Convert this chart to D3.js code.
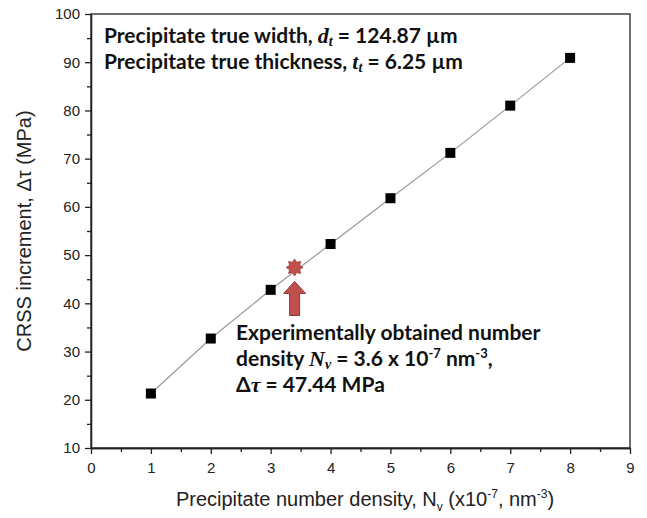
<!DOCTYPE html>
<html><head><meta charset="utf-8">
<script src="https://cdn.jsdelivr.net/npm/d3@7"></script>
<style>body{margin:0;background:#fff}svg{display:block}</style>
</head><body>
<svg id="c" width="647" height="518"></svg>
<script>
const densities = [1, 2, 3, 4, 5, 6, 7, 8];
const crss = [21.3, 32.7, 42.8, 52.3, 61.8, 71.2, 81.0, 90.9];
const expPoint = {x: 3.4, y: 47.44};
const xTicks = [0,1,2,3,4,5,6,7,8,9];
const yTicks = [10,20,30,40,50,60,70,80,90,100];

const svg = d3.select("#c");
const L = 91, R = 630, T = 14, B = 448;
const x = d3.scaleLinear().domain([0, 9]).range([L, R]);
const y = d3.scaleLinear().domain([10, 100]).range([B, T]);

const g = svg.append("g");
g.append("rect").attr("x", L).attr("y", T).attr("width", R - L).attr("height", B - T)
  .attr("fill", "none").attr("stroke", "#222").attr("stroke-width", 1.3);

const tickFont = "Liberation Sans, Arial, sans-serif";
const xa = g.append("g").attr("transform", `translate(0,${B})`)
  .call(d3.axisBottom(x).tickValues(xTicks).tickSize(6).tickSizeOuter(0).tickPadding(8).tickFormat(d3.format("d")));
const xm = g.append("g").attr("transform", `translate(0,${B})`)
  .call(d3.axisBottom(x).tickValues(d3.range(0.5, 9, 1)).tickSize(4).tickSizeOuter(0).tickFormat(""));
const ya = g.append("g").attr("transform", `translate(${L},0)`)
  .call(d3.axisLeft(y).tickValues(yTicks).tickSize(6).tickSizeOuter(0).tickPadding(5).tickFormat(d3.format("d")));
const ym = g.append("g").attr("transform", `translate(${L},0)`)
  .call(d3.axisLeft(y).tickValues(d3.range(15, 100, 10)).tickSize(4).tickSizeOuter(0).tickFormat(""));
[xa, xm, ya, ym].forEach(a => {
  a.select(".domain").attr("stroke", "#222").attr("stroke-width", 1.3);
  a.selectAll(".tick line").attr("stroke", "#222").attr("stroke-width", 1.3);
  a.selectAll("text").attr("font-family", tickFont).attr("font-size", 15).attr("fill", "#222");
});

const pts = densities.map((d, i) => [d, crss[i]]);
g.append("path").datum(pts)
  .attr("d", d3.line().x(d => x(d[0])).y(d => y(d[1])))
  .attr("fill", "none").attr("stroke", "#999").attr("stroke-width", 1.2);
g.selectAll("rect.pt").data(pts).enter().append("rect").attr("class", "pt")
  .attr("x", d => x(d[0]) - 5).attr("y", d => y(d[1]) - 5)
  .attr("width", 10).attr("height", 10).attr("fill", "#000");

const sx = x(expPoint.x), sy = y(expPoint.y);
const starPts = [];
for (let i = 0; i < 16; i++) {
  const r = i % 2 === 0 ? 8.5 : 5.5;
  const a = Math.PI * i / 8 - Math.PI / 2;
  starPts.push([sx + r * Math.cos(a), sy + r * Math.sin(a)]);
}
g.append("polygon").attr("points", starPts.map(p => p.join(",")).join(" "))
  .attr("fill", "#c0504d").attr("stroke", "#a03c3a").attr("stroke-width", 0.8);
const ax = sx, aTop = sy + 14, aBot = sy + 48;
const arrow = [[ax, aTop], [ax + 11, aTop + 12], [ax + 5, aTop + 12], [ax + 5, aBot],
  [ax - 5, aBot], [ax - 5, aTop + 12], [ax - 11, aTop + 12]];
g.append("polygon").attr("points", arrow.map(p => p.join(",")).join(" "))
  .attr("fill", "#c0504d").attr("stroke", "#8c3836").attr("stroke-width", 1);

const annFont = "Lato, 'Open Sans', sans-serif";
const mathFont = "'Liberation Serif', 'DejaVu Serif', serif";
function ann(xp, yp, parts) {
  const t = svg.append("text").attr("x", xp).attr("y", yp)
    .attr("font-family", annFont).attr("font-weight", "bold").attr("font-size", 21).attr("fill", "#111");
  parts.forEach(p => {
    const s = t.append("tspan").text(p.t);
    if (p.math) s.attr("font-family", mathFont).attr("font-style", "italic").attr("font-size", p.small ? 14 : 22);
    if (p.small && !p.math) s.attr("font-size", 13);
    if (p.dy) s.attr("dy", p.dy);
  });
}
ann(104, 43, [{t: "Precipitate true width, "}, {t: "d", math: true}, {t: "t", math: true, small: true, dy: 3}, {t: " = 124.87 µm", dy: -3}]);
ann(104, 69, [{t: "Precipitate true thickness, "}, {t: "t", math: true}, {t: "t", math: true, small: true, dy: 3}, {t: " = 6.25 µm", dy: -3}]);
ann(236, 340, [{t: "Experimentally obtained number"}]);
ann(236, 366, [{t: "density "}, {t: "N", math: true}, {t: "v", math: true, small: true, dy: 3}, {t: " = 3.6 x 10", dy: -3}, {t: "-7", small: true, dy: -8}, {t: " nm", dy: 8}, {t: "-3", small: true, dy: -8}, {t: ",", dy: 8}]);
ann(236, 392, [{t: "Δ"}, {t: "τ", math: true}, {t: " = 47.44 MPa"}]);

svg.append("text").attr("x", 365).attr("y", 506).attr("text-anchor", "middle")
  .attr("font-family", tickFont).attr("font-size", 20).attr("fill", "#222")
  .call(t => {
    t.append("tspan").text("Precipitate number density, N");
    t.append("tspan").text("v").attr("font-size", 12).attr("dy", 5);
    t.append("tspan").text(" (x10").attr("dy", -5);
    t.append("tspan").text("-7").attr("font-size", 12).attr("dy", -8);
    t.append("tspan").text(", nm").attr("dy", 8);
    t.append("tspan").text("-3").attr("font-size", 12).attr("dy", -8);
    t.append("tspan").text(")").attr("dy", 8);
  });
svg.append("text").attr("transform", `translate(31,${(T + B) / 2}) rotate(-90)`).attr("text-anchor", "middle")
  .attr("font-family", tickFont).attr("font-size", 20).attr("fill", "#222")
  .text("CRSS increment, Δτ (MPa)");
</script>
</body></html>
